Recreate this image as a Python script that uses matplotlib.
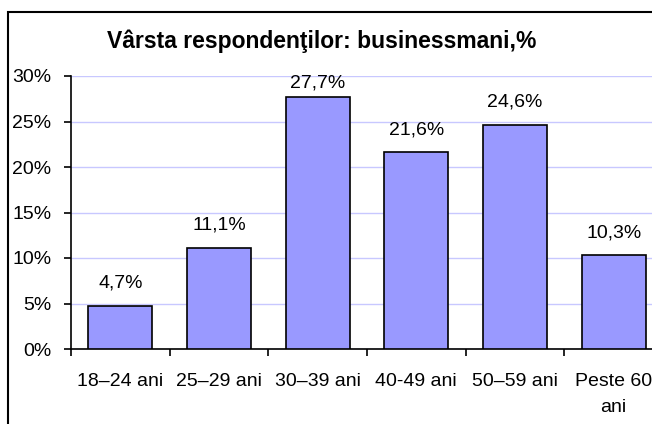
import matplotlib.pyplot as plt
from matplotlib.patches import Rectangle
from matplotlib.ticker import MultipleLocator, FuncFormatter

categories = ['18–24 ani', '25–29 ani', '30–39 ani', '40-49 ani', '50–59 ani', 'Peste 60\nani']
values = [4.7, 11.1, 27.7, 21.6, 24.6, 10.3]
title = 'Vârsta respondenţilor: businessmani,%'

plt.rcParams['font.family'] = ['Liberation Sans', 'DejaVu Sans']

W, H = 652, 424
fig = plt.figure(figsize=(W / 100, H / 100), dpi=100)
fig.patch.set_facecolor('white')

# plot area runs past the right edge (the original picture is cropped)
ax = fig.add_axes([71 / W, 1 - 349 / H, (663 - 71) / W, (349 - 76) / H])
x = range(len(categories))
ax.bar(x, values, width=0.65, color='#9999FF', edgecolor='black', linewidth=1.2, zorder=3)

ymax = 30
# labels sit above the bars, but are kept inside the plot area (like Excel)
for i, v in enumerate(values):
    ax.text(i, min(v + 2.5, ymax - 0.75), ('%.1f%%' % v).replace('.', ','),
            ha='center', va='center', fontsize=14)

ax.set_xlim(-0.5, len(categories) - 0.5)
ax.set_ylim(0, ymax)
ax.yaxis.set_major_locator(MultipleLocator(5))
ax.yaxis.set_major_formatter(FuncFormatter(lambda v, p: '%d%%' % v))
ax.grid(axis='y', color='#C8C8FF', linewidth=1, zorder=0)

ax.set_xticks([i + 0.5 for i in x][:-1] + [-0.5])
ax.set_xticklabels([])
ax.set_xticks(list(x), minor=True)
ax.set_xticklabels(categories, minor=True, fontsize=14, linespacing=1.75)
ax.tick_params(axis='x', which='minor', length=0, pad=17)
ax.tick_params(axis='x', which='major', length=5, width=1.2, direction='out')
ax.tick_params(axis='y', length=5, width=1.2, direction='out', labelsize=14, pad=9)

for s in ['top', 'right']:
    ax.spines[s].set_visible(False)
for s in ['left', 'bottom']:
    ax.spines[s].set_linewidth(1.2)

fig.text(322 / W, 1 - 41 / H, title, ha='center', va='center', fontsize=16.5, fontweight='bold')

# chart frame (left and top edges visible only)
fig.patches.append(Rectangle((7.5 / W, -0.1), 1.1, (1 - 12.5 / H) + 0.1, transform=fig.transFigure,
                             fill=False, edgecolor='black', linewidth=1.5, zorder=10))

fig.savefig('out.png', dpi=100)
